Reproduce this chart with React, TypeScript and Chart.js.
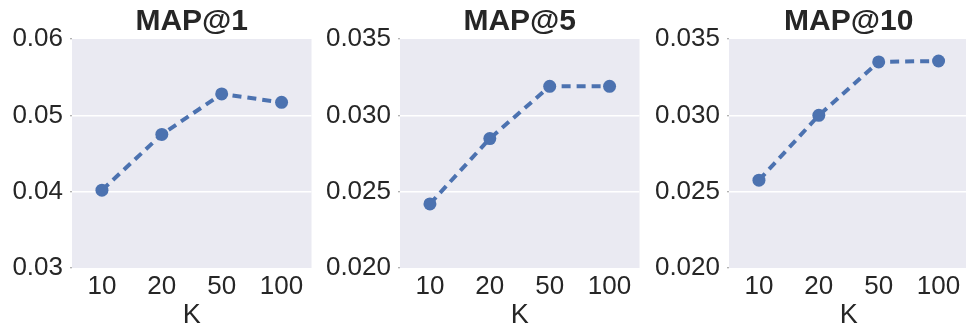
import React, { useEffect, useRef } from "react";
import { Chart, registerables } from "chart.js";

Chart.register(...registerables);

const categories = ["10", "20", "50", "100"];
const map1Values = [0.0402, 0.0475, 0.0528, 0.0517];
const map5Values = [0.0242, 0.02848, 0.0319, 0.0319];
const map10Values = [0.02575, 0.03, 0.0335, 0.03356];
const map1Ticks = [0.03, 0.04, 0.05, 0.06];
const map5Ticks = [0.02, 0.025, 0.03, 0.035];
const map10Ticks = [0.02, 0.025, 0.03, 0.035];
const titles = ["MAP@1", "MAP@5", "MAP@10"];
const xTitle = "K";

const FONT = "'Liberation Sans', Arial, sans-serif";
const TEXT = "#262626";
const LINE = "#4C72B0";
const BG = "#EAEAF2";

const bgPlugin = {
  id: "plotBg",
  beforeDraw(chart: any) {
    const { ctx, chartArea } = chart;
    if (!chartArea) return;
    ctx.save();
    ctx.fillStyle = BG;
    ctx.fillRect(chartArea.left, chartArea.top, chartArea.right - chartArea.left, chartArea.bottom - chartArea.top);
    ctx.restore();
  },
};

type PanelProps = {
  left: number;
  width: number;
  yWidth: number;
  title: string;
  values: number[];
  ticks: number[];
  decimals: number;
};

function Panel({ left, width, yWidth, title, values, ticks, decimals }: PanelProps) {
  const ref = useRef<HTMLCanvasElement>(null);
  useEffect(() => {
    if (!ref.current) return;
    const chart = new Chart(ref.current, {
      type: "line",
      data: {
        labels: categories,
        datasets: [
          {
            data: values,
            borderColor: LINE,
            backgroundColor: LINE,
            borderWidth: 4,
            borderDash: [9, 6],
            pointRadius: 6.5,
            pointBackgroundColor: LINE,
            pointBorderColor: LINE,
            pointBorderWidth: 0,
            tension: 0,
            fill: false,
          },
        ],
      },
      options: {
        responsive: false,
        animation: false,
        events: [],
        layout: { padding: { top: 0, right: 5, bottom: 0, left: 0 } },
        plugins: {
          legend: { display: false },
          tooltip: { enabled: false },
          title: {
            display: true,
            text: title,
            fullSize: false,
            color: TEXT,
            font: { family: FONT, size: 30, weight: "bold" },
            padding: { top: 4, bottom: -1 },
          },
        },
        scales: {
          x: {
            type: "category",
            offset: true,
            grid: { display: false, drawTicks: false },
            border: { display: false },
            ticks: {
              color: TEXT,
              font: { family: FONT, size: 26 },
              padding: 3,
              maxRotation: 0,
            },
            title: {
              display: true,
              text: xTitle,
              color: TEXT,
              font: { family: FONT, size: 27 },
              padding: { top: 0, bottom: 1 },
            },
            afterFit(scale: any) {
              scale.height = 65;
            },
          },
          y: {
            type: "linear",
            min: ticks[0],
            max: ticks[ticks.length - 1],
            afterBuildTicks(scale: any) {
              scale.ticks = ticks.map((v) => ({ value: v }));
            },
            grid: {
              color: (ctx: any) => {
                const v = ctx.tick && ctx.tick.value;
                if (v === ticks[0] || v === ticks[ticks.length - 1]) return "rgba(0,0,0,0)";
                return "#FFFFFF";
              },
              lineWidth: 1.5,
              drawTicks: true,
              tickLength: 2,
              tickColor: "#999999",
              tickWidth: 1,
            },
            border: { display: false },
            ticks: {
              color: TEXT,
              font: { family: FONT, size: 26 },
              padding: 7,
              callback: (v: any) => Number(v).toFixed(decimals),
            },
            afterFit(scale: any) {
              scale.width = yWidth;
            },
          },
        },
      },
      plugins: [bgPlugin],
    } as any);
    return () => chart.destroy();
  }, []);
  return (
    <canvas
      ref={ref}
      width={width}
      height={333}
      style={{ position: "absolute", left, top: 0, width, height: 333 }}
    />
  );
}

export default function App() {
  return (
    <div
      style={{
        position: "absolute",
        left: 0,
        top: 0,
        width: 966,
        height: 333,
        overflow: "hidden",
        background: "#FFFFFF",
      }}
    >
      <Panel left={0} width={318} yWidth={72} title={titles[0]} values={map1Values} ticks={map1Ticks} decimals={2} />
      <Panel left={320} width={326} yWidth={80} title={titles[1]} values={map5Values} ticks={map5Ticks} decimals={3} />
      <Panel left={640} width={335} yWidth={89} title={titles[2]} values={map10Values} ticks={map10Ticks} decimals={3} />
    </div>
  );
}
